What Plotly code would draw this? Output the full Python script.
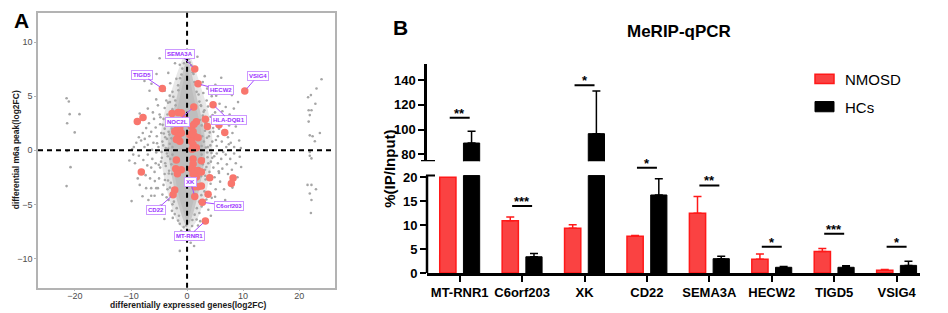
import plotly.graph_objects as go

W, H = 948, 313

# ---------------- Panel A data ----------------
# scattered grey genes
grey_x = [-2.6,-2.8,-2.7,-2.9,-2.6,-3.1,-3.3,-3.2,-3.5,-3.4,-3.8,-3.9,-4.0,-4.2,-4.0,-4.4,-4.6,-4.8,-4.9,-5.2,-5.1,-5.4,-5.6,-5.9,-6.1,-6.0,-6.4,-6.7,-6.8,-7.0,-7.0,-7.3,-7.6,-7.9,-8.2,-8.45,-8.6,-9.05,-9.5,-3.7,-3.1,-4.0,-6.7,-7.6,-4.9,-3.0,-2.6,-5.5,-9.8,
          -2.6,-2.8,-2.7,-2.9,-2.6,-3.0,-3.2,-3.4,-3.5,-3.6,-3.9,-4.0,-4.2,-4.4,-4.5,-4.8,-5.0,-5.2,-5.5,-5.6,-5.8,-5.5,-5.8,-6.2,-6.4,-6.4,-6.6,-6.4,-7.0,-7.1,-7.3,-7.4,-7.8,-8.0,-8.45,-8.6,-8.8,-9.3,-9.9,-9.6,-3.3,-2.7,-2.2,-1.6,-1.3,-1.3,-4.7,-6.9,
          2.6,2.7,2.6,2.8,2.5,3.0,3.2,3.4,3.1,3.5,3.7,3.9,4.0,4.2,4.3,4.5,4.7,4.9,5.0,5.2,5.3,5.5,5.7,5.9,6.1,6.2,6.4,6.6,6.9,7.0,7.3,7.5,7.8,8.1,8.4,8.7,9.1,9.3,9.6,2.9,3.6,2.8,4.4,6.3,7.6,5.8,8.0,
          2.6,2.8,2.5,2.7,3.0,3.2,3.3,3.1,3.6,3.8,4.0,4.2,4.4,4.5,4.7,4.9,5.1,5.3,5.5,5.7,5.9,6.1,6.3,6.6,6.9,7.1,7.3,7.7,8.0,8.4,8.7,9.0,9.4,2.6,2.2,1.7,3.8,1.8,0.9,5.0,6.8,0.4,-0.6,
          -0.3,-0.8,0.5,-1.3,1.0,-1.0,-1.6,1.7,-2.1,2.2,-2.3,2.3,-1.9,1.3,
          -3.35,-3.6,-3.15,-3.75,-3.45,-3.8,-3.25,-3.95,-3.05,-2.85,-2.35,-1.85,-1.45,-2.05,-2.45,-1.55,-1.25,-0.85,-0.55,0.35,0.75,1.15,1.55,2.05,2.45,2.95,3.25,3.55,3.35,3.65,3.45,3.25,2.95,2.55,2.15,1.75,1.35,0.95,-0.15,0.25,-0.35,4.15,4.35,4.05,4.25,-4.25,-4.55,-4.15,-4.65,-4.35,-4.75,4.65,4.85,5.15,-5.35,-5.05,4.55,-3.05,3.75,-3.65,3.45,1.95,-1.05,6.45,-6.25,5.65,-5.75,7.45,-7.55,2.35,-2.55,0.65,-0.95,3.15,-3.35,5.05,6.65,-6.35,-5.45,8.35,-8.95,9.65,-10.3,8.1,-7.95,4.25,-4.05,1.25,-2.15,1.85,
          -21.5,-21.1,-20.95,-19.2,-21.4,-20.05,-21.4,-20.8,-21.5,
          24.0,23.1,22.1,21.6,22.9,21.7,22.2,21.9,21.7,23.7,21.9,22.4,22.8,21.9,21.9,22.2,21.5,22.2,23.0,21.9,22.2,22.1]
grey_y = [0.3,1.1,2.0,2.9,3.8,0.6,1.7,2.5,3.3,4.4,0.2,1.2,2.0,2.9,3.9,0.8,1.6,2.4,3.3,4.15,0.3,1.3,2.1,2.9,3.5,0.7,1.7,1.3,2.5,0.5,3.85,2.05,0.3,1.6,0.9,3.4,1.2,0.7,0.3,4.6,5.05,5.5,5.5,6.4,8.5,6.2,5.4,4.7,0.1,
          -0.4,-1.3,-2.2,-3.0,-5.0,-0.8,-1.9,-2.8,-3.6,-0.3,-1.2,-2.2,-3.2,-4.1,-0.7,-1.6,-2.6,-3.5,-0.2,-1.2,-2.0,-3.5,-4.2,-0.8,-1.6,-3.5,-2.6,-4.2,-0.4,-1.4,-3.5,-2.3,-0.9,-1.9,-3.2,-0.5,-2.6,-1.2,-4.7,-0.4,-4.6,-5.6,-5.9,-6.5,-6.8,-9.3,-5.1,-4.6,
          0.4,1.3,2.3,3.2,4.1,0.8,1.8,2.6,3.7,4.6,0.3,1.3,2.2,3.1,4.3,0.8,1.7,2.6,3.5,5.05,0.4,1.3,2.0,3.0,6.7,0.8,1.8,2.6,4.0,0.3,1.2,2.3,0.7,1.6,0.3,2.2,4.45,0.9,0.2,5.3,5.7,6.3,5.0,3.6,3.3,4.3,5.1,
          -0.4,-1.3,-2.4,-3.2,-0.8,-1.8,-2.7,-3.8,-0.2,-1.2,-2.0,-3.1,-4.4,-0.7,-1.6,-2.5,-3.6,-0.3,-1.2,-2.1,-2.9,-0.8,-1.7,-3.6,-0.4,-1.3,-2.2,-0.8,-1.8,-0.3,-1.2,-2.5,-0.6,-5.2,-5.8,-6.4,-5.5,-7.6,-7.0,-4.3,-4.6,-7.4,-7.1,
          8.5,8.8,8.1,7.9,7.2,7.0,6.0,5.4,4.6,4.5,3.5,2.8,6.6,6.3,
          0.15,1.05,1.45,2.35,-0.55,-1.45,-2.15,-2.75,-3.45,-4.15,-4.75,-5.35,-6.05,4.15,4.95,5.55,6.65,7.55,8.05,8.45,7.85,7.05,6.05,5.15,4.15,3.55,2.45,1.15,0.25,-0.65,-1.55,-2.35,-3.25,-4.15,-4.75,-5.35,-5.95,-6.45,-6.95,-7.75,-7.65,0.45,-0.25,1.65,-1.05,0.45,-0.15,1.55,-1.05,2.35,3.05,2.05,-0.55,0.95,0.65,-1.35,3.25,4.45,4.05,-4.35,-4.55,-6.95,-7.45,-0.15,0.05,-1.95,-2.85,0.55,1.05,-6.55,-6.25,-8.55,-8.25,6.85,7.15,6.05,5.25,6.15,7.05,3.85,2.45,-1.55,-0.95,-3.45,-4.25,-6.05,-6.35,-8.85,8.05,8.65,
          4.81,4.51,3.34,3.34,2.5,1.65,-0.06,-1.56,-3.31,
          6.56,5.71,5.1,4.9,4.3,3.7,3.7,3.25,2.65,1.6,1.38,1.3,0.84,-0.15,-0.5,-0.75,-3.2,-3.2,-3.6,-4.0,-4.6,-5.8]

# medium-density zone around the centre
mid_x = [0.0, 1.2, 2.4, 3.4, 4.2, 4.1, 3.4, 2.4, 1.2, 0.0, -1.3, -2.5, -3.5, -4.3, -4.4, -3.6, -2.5, -1.3, 0.0]
mid_y = [8.8, 7.4, 5.5, 3.8, 1.5, -1.0, -3.3, -5.2, -6.7, -7.3, -6.7, -5.2, -3.3, -1.0, 1.5, 3.8, 5.5, 7.4, 8.8]
# dense central cloud outline
core_x = [0.0, 0.5, 1.0, 1.5, 2.1, 2.7, 3.0, 2.8, 2.2, 1.5, 1.0, 0.5, 0.0, -0.5, -1.0, -1.6, -2.3, -2.9, -3.2, -2.8, -2.2, -1.6, -1.1, -0.5, 0.0]
core_y = [8.0, 7.2, 6.0, 4.8, 3.5, 2.0, 0.5, -1.0, -2.8, -4.5, -5.5, -6.3, -6.8, -6.3, -5.5, -4.5, -2.8, -1.0, 0.5, 2.0, 3.5, 4.8, 6.0, 7.2, 8.0]

# significant genes (red)
red_x = [1.37,1.96,10.3,-4.41,4.64,1.2,-2.68,-1.61,-1.02,3.27,1.66,1.25,3.63,6.73,-0.54,-1.91,-1.3,-2.2,-1.02,-1.61,-1.3,-1.91,
         0.77,1.07,0.48,1.37,0.77,1.96,1.07,1.66,0.89,-8.88,-7.86,5.7,
         -1.91,-2.02,-1.02,-1.73,-2.2,-2.5,1.07,1.07,0.77,1.37,1.96,2.55,1.07,1.66,2.55,1.37,1.96,2.55,1.37,4.05,8.21,7.91,3.75,2.73,3.27,-8.16]
red_y = [7.52,6.14,5.48,5.71,4.21,4.0,3.4,3.49,3.46,2.86,2.64,2.41,2.19,1.65,2.89,2.35,2.05,1.74,1.6,1.29,0.84,0.99,
         2.19,1.74,1.44,1.29,0.84,1.15,0.54,0.24,0.09,2.65,3.04,2.35,
         -0.9,-1.71,-1.8,-2.17,-3.67,-4.12,-0.81,-1.26,-1.71,-1.87,-1.87,-0.96,-2.17,-2.46,-2.01,-3.37,-3.37,-3.31,-4.27,-2.53,-2.56,-3.07,-4.06,-4.81,-6.53,-2.01]

# labelled genes
lab_names = ['SEMA3A','TIGD5','VSIG4','HECW2','HLA-DQB1','NOC2L','XK','C6orf203','CD22','MT-RNR1']
lab_pt_x = [1.37,-4.41,10.3,1.96,4.64,1.2,1.37,2.73,-2.5,3.27]
lab_pt_y = [7.52,5.71,5.48,6.14,4.21,4.0,-4.27,-4.81,-4.12,-6.53]
lab_tx_x = [-1.25,-8.1,12.6,6.07,7.56,-1.73,0.65,7.44,-5.54,0.36]
lab_tx_y = [8.9,7.0,6.86,5.57,2.77,2.65,-2.95,-5.11,-5.53,-7.94]

# ---------------- Panel B data ----------------
genes = ['MT-RNR1','C6orf203','XK','CD22','SEMA3A','HECW2','TIGD5','VSIG4']
nmosd_mean = [20.0, 10.9, 9.35, 7.7, 12.5, 2.9, 4.5, 0.6]
nmosd_err = [0.0, 0.8, 0.75, 0.16, 3.5, 1.1, 0.65, 0.15]
hcs_mean = [89.2, 3.4, 96.8, 16.3, 3.0, 1.2, 1.2, 1.6]
hcs_err = [9.5, 0.7, 34.5, 3.4, 0.5, 0.15, 0.35, 0.85]
sig_text = ['**', '***', '*', '*', '**', '*', '***', '*']
sig_level = [109.7, 14.0, 136.0, 22.0, 18.3, 5.5, 8.2, 5.5]

FONT = 'Liberation Sans'
RED_FILL = 'rgb(250,66,66)'
RED_LINE = 'rgb(255,25,25)'
LOW_TOP = 20.35
UP_MIN, UP_MAX = 74.47, 153.2
LOW_MAX = 43.68
OFF, BW = 0.19, 0.26


def px(x):
    return x / W


def py(y):
    return 1 - y / H


fig = go.Figure()

# ---- Panel A traces ----
fig.add_trace(go.Scatter(x=mid_x, y=mid_y, mode='lines', fill='toself', fillcolor='#E4E4E4',
                         line=dict(color='#E8E8E8', width=3, shape='spline'), xaxis='x', yaxis='y', hoverinfo='skip'))
fig.add_trace(go.Scatter(x=core_x, y=core_y, mode='lines', fill='toself', fillcolor='#BEBEBE',
                         line=dict(color='#C8C8C8', width=3, shape='spline'), xaxis='x', yaxis='y', hoverinfo='skip'))
fig.add_trace(go.Scatter(x=grey_x, y=grey_y, mode='markers', marker=dict(color='#A6A6A6', size=2.6),
                         xaxis='x', yaxis='y'))
fig.add_trace(go.Scatter(x=red_x, y=red_y, mode='markers', marker=dict(color='#F8766D', size=7.5),
                         xaxis='x', yaxis='y'))

shapes = []
# dashed reference lines
shapes.append(dict(type='line', xref='x', yref='y domain', x0=0, x1=0, y0=0, y1=1,
                   line=dict(color='black', width=2, dash='5px,4px')))
shapes.append(dict(type='line', xref='x domain', yref='y', x0=0, x1=1, y0=0, y1=0,
                   line=dict(color='black', width=2, dash='5px,4px')))

annotations = []
for n, x0, y0, tx, ty in zip(lab_names, lab_pt_x, lab_pt_y, lab_tx_x, lab_tx_y):
    annotations.append(dict(x=x0, y=y0, xref='x', yref='y', ax=tx, ay=ty, axref='x', ayref='y',
                            text='<b>' + n + '</b>', showarrow=True, arrowhead=0, arrowwidth=1,
                            arrowcolor='#A64DFF', standoff=3, font=dict(family=FONT, size=6, color='#9B30FF'),
                            bgcolor='white', bordercolor='#CC99FF', borderwidth=1, borderpad=1))

# ---- Panel B traces ----
idx = list(range(len(genes)))
xr = [i - OFF for i in idx]
xb = [i + OFF for i in idx]

fig.add_trace(go.Bar(x=xr, y=[min(v, LOW_TOP) for v in nmosd_mean], width=BW,
                     marker=dict(color=RED_FILL, line=dict(color=RED_LINE, width=1.5)), xaxis='x2', yaxis='y2'))
fig.add_trace(go.Bar(x=xb, y=[min(v, LOW_TOP) for v in hcs_mean], width=BW,
                     marker=dict(color='black', line=dict(color='black', width=1)), xaxis='x2', yaxis='y2'))
fig.add_trace(go.Bar(x=xr, y=[v if v > LOW_TOP else None for v in nmosd_mean], width=BW,
                     marker=dict(color=RED_FILL, line=dict(color=RED_LINE, width=1.5)), xaxis='x2', yaxis='y3'))
fig.add_trace(go.Bar(x=xb, y=[v if v > LOW_TOP else None for v in hcs_mean], width=BW,
                     marker=dict(color='black', line=dict(color='black', width=1)), xaxis='x2', yaxis='y3'))


# one-sided error bars
def err_trace(xs, means, errs, color, upper):
    px_, py_, pe = [], [], []
    for x, m, e in zip(xs, means, errs):
        if e <= 0:
            continue
        if (m > LOW_TOP) == upper:
            px_.append(x); py_.append(m); pe.append(e)
    return go.Scatter(x=px_, y=py_, mode='markers', marker=dict(size=1, opacity=0),
                      error_y=dict(type='data', symmetric=False, array=pe, arrayminus=[0] * len(pe),
                                   color=color, thickness=1.5, width=4),
                      xaxis='x2', yaxis='y3' if upper else 'y2')


fig.add_trace(err_trace(xr, nmosd_mean, nmosd_err, RED_LINE, False))
fig.add_trace(err_trace(xb, hcs_mean, hcs_err, 'black', False))
fig.add_trace(err_trace(xr, nmosd_mean, nmosd_err, RED_LINE, True))
fig.add_trace(err_trace(xb, hcs_mean, hcs_err, 'black', True))

# significance brackets
lx_lo, ly_lo, lx_up, ly_up = [], [], [], []
for i, lvl, t in zip(idx, sig_level, sig_text):
    up = lvl > UP_MIN
    if up:
        lx_up += [i - 0.16, i + 0.16, None]; ly_up += [lvl, lvl, None]
    else:
        lx_lo += [i - 0.16, i + 0.16, None]; ly_lo += [lvl, lvl, None]
    annotations.append(dict(x=i, y=lvl, xref='x2', yref='y3' if up else 'y2', text='<b>' + t + '</b>',
                            showarrow=False, xanchor='center', yanchor='bottom', yshift=-5,
                            font=dict(family=FONT, size=13, color='black')))
fig.add_trace(go.Scatter(x=lx_lo, y=ly_lo, mode='lines', line=dict(color='black', width=2),
                         xaxis='x2', yaxis='y2'))
fig.add_trace(go.Scatter(x=lx_up, y=ly_up, mode='lines', line=dict(color='black', width=2),
                         xaxis='x2', yaxis='y3'))

# lower y axis line and break marks
shapes.append(dict(type='line', xref='paper', yref='y2', x0=px(419), x1=px(419), y0=0, y1=LOW_TOP,
                   line=dict(color='black', width=2.5)))
shapes.append(dict(type='line', xref='paper', yref='y2', x0=px(418), x1=px(427), y0=LOW_TOP, y1=LOW_TOP,
                   line=dict(color='black', width=2)))
shapes.append(dict(type='line', xref='paper', yref='y3', x0=px(413), x1=px(427), y0=UP_MIN, y1=UP_MIN,
                   line=dict(color='black', width=2.5)))

# manual legend
shapes.append(dict(type='rect', xref='paper', yref='paper', x0=px(807), x1=px(826), y0=py(77.5), y1=py(68),
                   fillcolor=RED_FILL, line=dict(color=RED_LINE, width=1.5)))
shapes.append(dict(type='rect', xref='paper', yref='paper', x0=px(807), x1=px(826), y0=py(106.5), y1=py(96),
                   fillcolor='black', line=dict(color='black', width=1)))


def txt(x, y, s, size, color='black', angle=0, xanchor='center'):
    return dict(x=px(x), y=py(y), xref='paper', yref='paper', text=s, showarrow=False, textangle=angle,
                xanchor=xanchor, yanchor='middle', font=dict(family=FONT, size=size, color=color))


annotations.append(txt(835, 73, 'NMOSD', 15, xanchor='left'))
annotations.append(txt(835, 102, 'HCs', 15, xanchor='left'))
annotations.append(txt(671, 24, '<b>MeRIP-qPCR</b>', 17))
annotations.append(txt(382, 165, '<b>%(IP/Input)</b>', 15, angle=-90))
annotations.append(txt(13, 13, '<b>A</b>', 21))
annotations.append(txt(392, 20, '<b>B</b>', 21))
annotations.append(txt(180, 305, '<b>differentially expressed genes(log2FC)</b>', 8.5, '#1a1a1a'))
annotations.append(txt(8, 146, '<b>differential m6a peak(log2FC)</b>', 8.5, '#1a1a1a', angle=-90))

axA = dict(showgrid=False, zeroline=False, showline=True, mirror=True, linecolor='#B3B3B3', linewidth=1.5,
           ticks='outside', ticklen=2, tickwidth=1, tickcolor='#B3B3B3',
           tickfont=dict(family=FONT, size=9, color='#4D4D4D'))
axB = dict(showgrid=False, zeroline=False, ticks='outside', ticklen=6, tickwidth=2, tickcolor='black',
           tickfont=dict(family=FONT, size=13, color='black', weight='bold'))

fig.update_layout(
    width=W, height=H, margin=dict(l=0, r=0, t=0, b=0),
    paper_bgcolor='white', plot_bgcolor='white', showlegend=False,
    xaxis=dict(domain=[px(30), px(327)], range=[-26.6, 26.4], anchor='y', ticklabelstandoff=-3,
               tickvals=[-20, -10, 0, 10, 20], **axA),
    yaxis=dict(domain=[py(287), py(5)], range=[-12.7, 12.7], anchor='x',
               tickvals=[-10, -5, 0, 5, 10], **axA),
    xaxis2=dict(domain=[px(419), px(911.7)], range=[-0.524, 7.37], anchor='y2', showline=True,
                linecolor='black', linewidth=2.5, tickvals=idx, ticktext=genes, **axB),
    yaxis2=dict(domain=[py(272), py(57.3)], range=[0, LOW_MAX], anchor='x2', showline=False,
                tickvals=[0, 5, 10, 15, 20], **axB),
    yaxis3=dict(domain=[py(157.3), py(57.3)], range=[UP_MIN, UP_MAX], anchor='x2', showline=True,
                linecolor='black', linewidth=2.5, tickvals=[80, 100, 120, 140], **axB),
    shapes=shapes, annotations=annotations,
)

fig.write_html('out.html')
